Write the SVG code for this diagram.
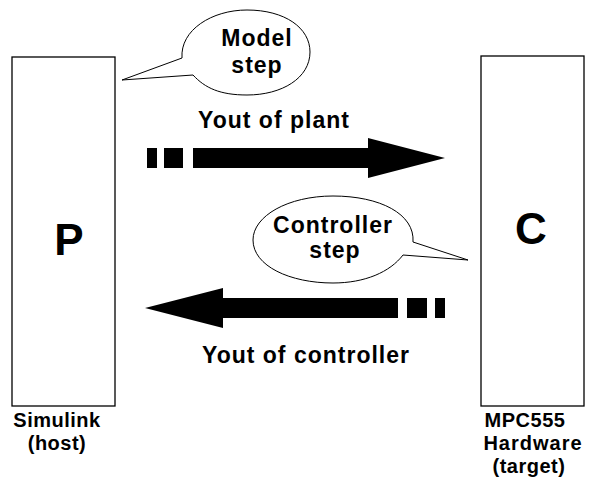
<svg xmlns="http://www.w3.org/2000/svg" width="591" height="496" viewBox="0 0 591 496">
<style>
.box{fill:#fff;stroke:#000;stroke-width:1.3}
.bub{fill:#fff;stroke:#000;stroke-width:1}
.t{font-family:"Liberation Sans",Arial,sans-serif;font-weight:bold;font-size:23px;letter-spacing:1px;fill:#000;text-anchor:middle}
.s{font-size:20px;letter-spacing:0.5px}
.big{font-size:44px;letter-spacing:0}
</style>
<rect width="591" height="496" fill="#fff"/>
<g id="node-P">
<rect class="box" x="12" y="57" width="103" height="349"/>
<text class="t big" x="69" y="255">P</text>
<text class="t s" x="57" y="427">Simulink</text>
<text class="t s" x="57" y="450">(host)</text>
</g>
<g id="node-C">
<rect class="box" x="481" y="56" width="103" height="350"/>
<text class="t big" x="531" y="244">C</text>
<text class="t s" x="525" y="427">MPC555</text>
<text class="t s" x="533" y="450" style="letter-spacing:1px">Hardware</text>
<text class="t s" x="529" y="473">(target)</text>
</g>
<g id="bubble-model">
<path class="bub" d="M182,58 C180,30 212,10 247,10 C285,10 310,28 310,52 C310,78 282,95 247,95 C220,95 205,88 193,75 L122,80 Z"/>
<text class="t" x="257" y="46">Model</text>
<text class="t" x="257" y="73">step</text>
</g>
<g id="bubble-controller">
<path class="bub" d="M413,242 C415,214 380,196 333,196 C288,196 253,216 253,240 C253,266 290,283 333,283 C365,283 390,272 403,255 L468,260 Z"/>
<text class="t" x="333" y="233">Controller</text>
<text class="t" x="335" y="258">step</text>
</g>
<g id="connectors">
<rect x="147" y="148" width="10" height="20"/>
<rect x="164" y="148" width="19" height="20"/>
<path d="M193,148 H368 V138 L445,158 L368,178 V168 H193 Z"/>
<text class="t" x="274" y="128">Yout of plant</text>
<path d="M398,298 H223 V288 L145,308 L223,328 V318 H398 Z"/>
<rect x="407" y="298" width="20" height="20"/>
<rect x="435" y="298" width="10" height="20"/>
<text class="t" x="306" y="363">Yout of controller</text>
</g>
</svg>
